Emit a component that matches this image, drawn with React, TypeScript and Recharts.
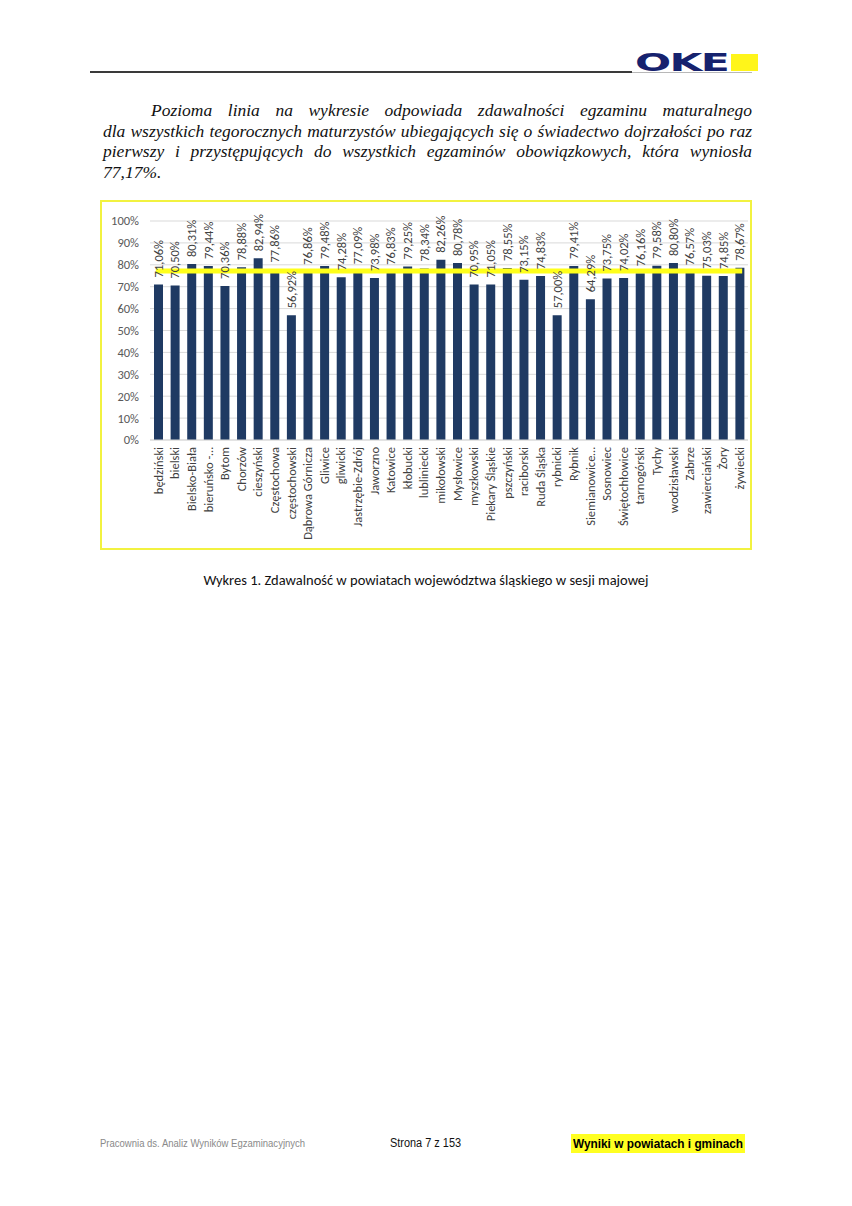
import React from 'react';
import { ComposedChart, Bar, XAxis, YAxis, CartesianGrid, LabelList, ReferenceLine } from 'recharts';

const categories = [
  'będziński', 'bielski', 'Bielsko-Biała', 'bieruńsko -…', 'Bytom', 'Chorzów', 'cieszyński',
  'Częstochowa', 'częstochowski', 'Dąbrowa Górnicza', 'Gliwice', 'gliwicki', 'Jastrzębie-Zdrój',
  'Jaworzno', 'Katowice', 'kłobucki', 'lubliniecki', 'mikołowski', 'Mysłowice', 'myszkowski',
  'Piekary Śląskie', 'pszczyński', 'raciborski', 'Ruda Śląska', 'rybnicki', 'Rybnik',
  'Siemianowice…', 'Sosnowiec', 'Świętochłowice', 'tarnogórski', 'Tychy', 'wodzisławski',
  'Zabrze', 'zawierciański', 'Żory', 'żywiecki',
];
const passRates = [
  71.06, 70.5, 80.31, 79.44, 70.36, 78.88, 82.94,
  77.86, 56.92, 76.86, 79.48, 74.28, 77.09,
  73.98, 76.83, 79.25, 78.34, 82.26, 80.78, 70.95,
  71.05, 78.55, 73.15, 74.83, 57.0, 79.41,
  64.29, 73.75, 74.02, 76.16, 79.58, 80.8,
  76.57, 75.03, 74.85, 78.67,
];
const overallRate = 77.17;
const yTicks = [0, 10, 20, 30, 40, 50, 60, 70, 80, 90, 100];

const data = categories.map((name, i) => ({ name, value: passRates[i] }));

const paragraphLines = [
  'Pozioma linia na wykresie odpowiada zdawalności egzaminu maturalnego',
  'dla wszystkich tegorocznych maturzystów ubiegających się o świadectwo dojrzałości po raz',
  'pierwszy i przystępujących do wszystkich egzaminów obowiązkowych, która wyniosła',
  '77,17%.',
];

const chartFont = 'Carlito, Lato, "Open Sans", sans-serif';

const fmt = (v: number) => v.toFixed(2).replace('.', ',') + '%';

const ValueLabel = (props: any) => {
  const { x, y, width, value } = props;
  const cx = x + width / 2;
  const cy = y - 7;
  return (
    <text
      x={cx}
      y={cy}
      transform={`rotate(-90, ${cx}, ${cy})`}
      textAnchor="start"
      dy="0.35em"
      fontSize={12.5}
      fontFamily={chartFont}
      fill="#404040"
    >
      {fmt(value)}
    </text>
  );
};

const XTick = (props: any) => {
  const { x, y, payload } = props;
  return (
    <text
      x={x}
      y={y}
      transform={`rotate(-90, ${x}, ${y})`}
      textAnchor="end"
      dy="0.35em"
      fontSize={12.5}
      fontFamily={chartFont}
      fill="#404040"
    >
      {payload.value}
    </text>
  );
};

const narrow = (scale: number): React.CSSProperties => ({
  transform: `scaleX(${scale})`,
  transformOrigin: 'left center',
  whiteSpace: 'nowrap',
});

export default function App() {
  return (
    <div
      style={{
        position: 'absolute',
        left: 0,
        top: 0,
        width: 852,
        height: 1206,
        background: '#ffffff',
        overflow: 'hidden',
      }}
    >
      {/* header */}
      <div style={{ position: 'absolute', left: 90, top: 71, width: 542, height: 2, background: '#3a3a3a' }} />
      <div style={{ position: 'absolute', left: 632, top: 72, width: 120, height: 1, background: '#b8b8b8' }} />
      <div style={{ position: 'absolute', left: 731, top: 54, width: 27, height: 17, background: '#FFF51A' }} />
      <div
        style={{
          position: 'absolute',
          left: 635,
          top: 46,
          fontFamily: '"DejaVu Sans", sans-serif',
          fontWeight: 900,
          fontSize: 25,
          lineHeight: '33px',
          color: '#16226e',
          transform: 'scaleX(1.7)',
          transformOrigin: 'left center',
          whiteSpace: 'nowrap',
          letterSpacing: -1,
        }}
      >
        OKE
      </div>

      {/* paragraph */}
      <div
        style={{
          position: 'absolute',
          left: 103,
          top: 100,
          width: 649,
          fontFamily: '"Liberation Serif", "DejaVu Serif", serif',
          fontStyle: 'italic',
          fontSize: 17.5,
          lineHeight: '20.5px',
          color: '#111',
        }}
      >
        {paragraphLines.map((line, i) => (
          <div
            key={i}
            style={{
              textAlign: i < paragraphLines.length - 1 ? 'justify' : 'left',
              textAlignLast: i < paragraphLines.length - 1 ? 'justify' : 'left',
              textIndent: i === 0 ? 48 : 0,
              whiteSpace: 'nowrap',
            }}
          >
            {line}
          </div>
        ))}
      </div>

      {/* chart frame */}
      <div
        style={{
          position: 'absolute',
          left: 100,
          top: 200,
          width: 652,
          height: 350,
          boxSizing: 'border-box',
          border: '2px solid #F2F240',
        }}
      />
      <div style={{ position: 'absolute', left: 100, top: 200 }}>
        <ComposedChart
          width={652}
          height={350}
          data={data}
          margin={{ top: 21, right: 4, bottom: 2, left: 8 }}
        >
          <CartesianGrid vertical={false} stroke="#D9D9D9" />
          <XAxis
            dataKey="name"
            interval={0}
            tick={<XTick />}
            tickLine={false}
            tickSize={6}
            tickMargin={1}
            height={108}
            axisLine={{ stroke: '#D9D9D9' }}
          />
          <YAxis
            domain={[0, 100]}
            ticks={yTicks}
            tickFormatter={(v: number) => v + '%'}
            axisLine={false}
            tickLine={false}
            width={42}
            tickMargin={5}
            tick={{ fontSize: 12.5, fontFamily: chartFont, fill: '#595959' }}
            interval={0}
          />
          <Bar dataKey="value" fill="#1F3A63" barSize={9} isAnimationActive={false}>
            <LabelList dataKey="value" content={<ValueLabel />} />
          </Bar>
          <ReferenceLine
            segment={[
              { x: categories[0], y: overallRate },
              { x: categories[categories.length - 1], y: overallRate },
            ]}
            stroke="#FFFF1A"
            strokeWidth={5}
            strokeLinecap="square"
          />
        </ComposedChart>
      </div>

      {/* caption */}
      <div
        style={{
          position: 'absolute',
          left: 0,
          top: 570,
          width: 852,
          textAlign: 'center',
          fontFamily: 'Carlito, Lato, sans-serif',
          fontSize: 14.5,
          lineHeight: '20px',
          color: '#111',
        }}
      >
        Wykres 1. Zdawalność w powiatach województwa śląskiego w sesji majowej
      </div>

      {/* footer */}
      <div
        style={{
          position: 'absolute',
          left: 100,
          top: 1135,
          fontFamily: '"Liberation Sans", sans-serif',
          fontSize: 11,
          lineHeight: '16px',
          color: '#8a8a8a',
          ...narrow(0.865),
        }}
      >
        Pracownia ds. Analiz Wyników Egzaminacyjnych
      </div>
      <div
        style={{
          position: 'absolute',
          left: 390,
          top: 1134,
          fontFamily: '"Liberation Sans", sans-serif',
          fontSize: 12,
          lineHeight: '18px',
          color: '#111',
          ...narrow(0.91),
        }}
      >
        Strona 7 z 153
      </div>
      <div
        style={{
          position: 'absolute',
          left: 571,
          top: 1134,
          width: 174,
          height: 19,
          background: '#FFFF22',
        }}
      />
      <div
        style={{
          position: 'absolute',
          left: 573,
          top: 1134,
          fontFamily: '"Liberation Sans", sans-serif',
          fontWeight: 700,
          fontSize: 13,
          lineHeight: '19px',
          color: '#000',
          ...narrow(0.91),
        }}
      >
        Wyniki w powiatach i gminach
      </div>
    </div>
  );
}
